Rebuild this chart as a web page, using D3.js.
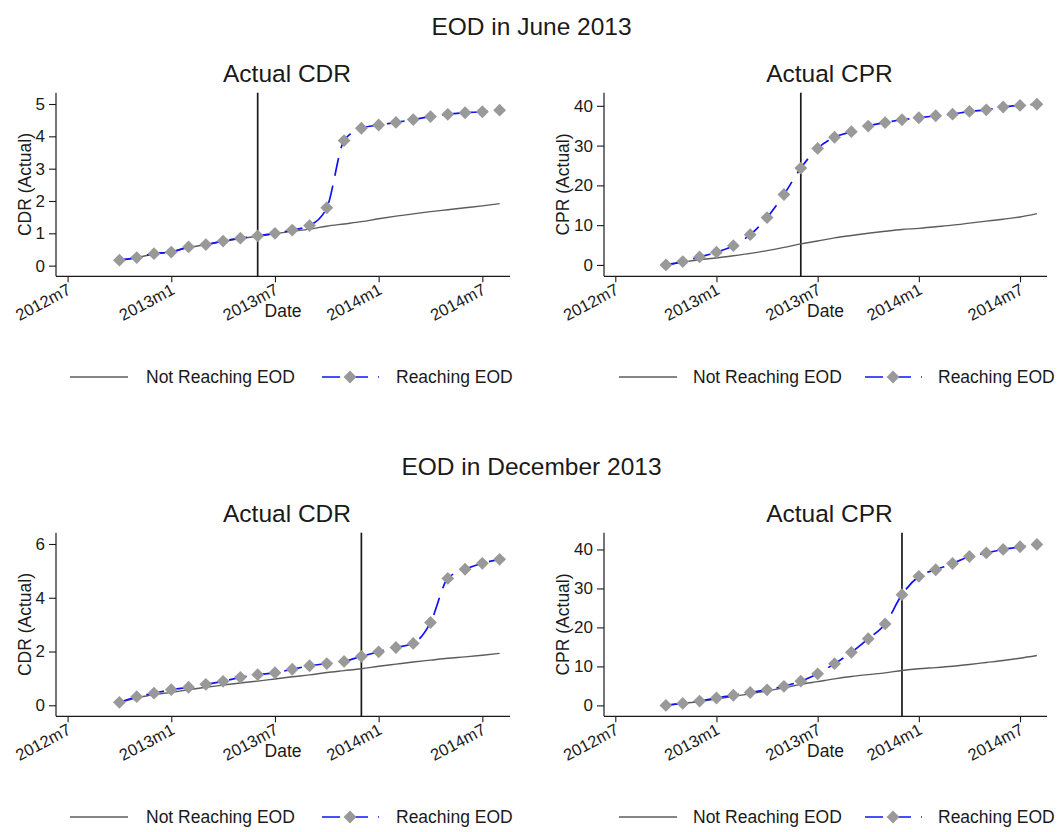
<!DOCTYPE html>
<html>
<head>
<meta charset="utf-8">
<script src="https://cdn.jsdelivr.net/npm/d3@7"></script>
<style>
  html, body { margin: 0; padding: 0; background: #fff; }
  svg { display: block; font-family: "Liberation Sans", Arial, Helvetica, sans-serif; }
</style>
</head>
<body>
<svg id="chart" width="1063" height="832"></svg>
<script>
// Monthly observation dates (Stata %tm style labels)
const months = ["2012m10","2012m11","2012m12","2013m1","2013m2","2013m3","2013m4","2013m5",
  "2013m6","2013m7","2013m8","2013m9","2013m10","2013m11","2013m12","2014m1","2014m2",
  "2014m3","2014m4","2014m5","2014m6","2014m7","2014m8"];
const monthTicks = ["2012m7","2013m1","2013m7","2014m1","2014m7"];

// EOD in June 2013
const cdrJuneNot   = [0.16,0.25,0.36,0.43,0.56,0.65,0.75,0.84,0.91,0.99,1.06,1.13,1.22,1.29,1.36,1.45,1.53,1.60,1.67,1.73,1.79,1.85,1.92];
const cdrJuneReach = [0.17,0.25,0.37,0.42,0.58,0.65,0.76,0.85,0.92,1.00,1.10,1.24,1.79,3.87,4.25,4.35,4.43,4.52,4.61,4.68,4.73,4.76,4.81];
const cprJuneNot   = [0.0,0.7,1.3,1.75,2.3,2.9,3.6,4.4,5.3,6.0,6.8,7.4,7.95,8.45,8.9,9.2,9.6,10.0,10.5,11.0,11.5,12.05,12.9];
const cprJuneReach = [0.0,0.84,2.0,3.2,4.85,7.6,11.9,17.7,24.35,29.3,32.1,33.5,34.9,35.8,36.5,37.0,37.5,37.9,38.6,39.0,39.7,40.1,40.4];

// EOD in December 2013
const cdrDecNot    = [0.11,0.27,0.40,0.48,0.58,0.67,0.75,0.83,0.90,0.98,1.06,1.13,1.22,1.29,1.36,1.45,1.53,1.61,1.68,1.75,1.80,1.86,1.93];
const cdrDecReach  = [0.11,0.32,0.45,0.58,0.67,0.78,0.89,1.04,1.14,1.21,1.34,1.47,1.55,1.63,1.82,1.99,2.15,2.30,3.08,4.72,5.06,5.28,5.43];
const cprDecNot    = [0.0,0.5,1.0,1.6,2.3,3.0,3.7,4.5,5.4,6.1,6.8,7.4,7.9,8.35,8.95,9.4,9.7,10.05,10.5,11.0,11.5,12.1,12.8];
const cprDecReach  = [0.0,0.5,1.1,1.9,2.6,3.3,4.0,4.9,6.2,8.1,10.7,13.6,17.1,20.9,28.4,33.1,34.8,36.4,38.2,39.1,40.0,40.7,41.3];

const cdrTicks = [0, 1, 2, 3, 4, 5];
const cdrDecTicks = [0, 2, 4, 6];
const cprTicks = [0, 10, 20, 30, 40];

const cdrJuneRange = [-0.33, 5.35];
const cprJuneRange = [-2.86, 43.3];
const cdrDecRange  = [-0.41, 6.42];
const cprDecRange  = [-2.8, 44.3];

const rowTitles = ["EOD in June 2013", "EOD in December 2013"];
const eodMonths = ["2013m6", "2013m12"];
const legendLabels = ["Not Reaching EOD", "Reaching EOD"];

// "2013m7" -> months since 2012m7
const monthIndex = s => { const [y, m] = s.split("m").map(Number); return (y - 2012) * 12 + (m - 7); };

const panels = [
  { row: 0, col: 0, title: "Actual CDR", ytitle: "CDR (Actual)", not: cdrJuneNot, reach: cdrJuneReach, ticks: cdrTicks,    range: cdrJuneRange },
  { row: 0, col: 1, title: "Actual CPR", ytitle: "CPR (Actual)", not: cprJuneNot, reach: cprJuneReach, ticks: cprTicks,    range: cprJuneRange },
  { row: 1, col: 0, title: "Actual CDR", ytitle: "CDR (Actual)", not: cdrDecNot,  reach: cdrDecReach,  ticks: cdrDecTicks, range: cdrDecRange },
  { row: 1, col: 1, title: "Actual CPR", ytitle: "CPR (Actual)", not: cprDecNot,  reach: cprDecReach,  ticks: cprTicks,    range: cprDecRange }
];

// layout
const colX = [{ left: 56, right: 510, legend: [70, 146, 322, 396] },
              { left: 604, right: 1047, legend: [619, 693, 865, 938] }];
const rowOffset = [0, 440];
const plotTop = 92.7, plotBottom = 276.3;

const INK = "#1a1a1a";
const GRAY_LINE = "#5c5c5c";
const BLUE = "#1010ff";
const MARKER = "#999999";
const DASH = "18,10";

const svg = d3.select("#chart");
const diamond = d3.symbol(d3.symbolSquare, 82);

// row titles
rowTitles.forEach((t, r) => {
  svg.append("text").attr("x", 531.5).attr("y", 35 + rowOffset[r])
    .attr("text-anchor", "middle").attr("font-size", 24.5).attr("fill", INK).text(t);
});

const xDomain = [monthIndex(monthTicks[0]) - 0.67, monthIndex(months[months.length - 1]) + 0.6];

panels.forEach(p => {
  const c = colX[p.col];
  const off = rowOffset[p.row];
  const top = plotTop + off, bottom = plotBottom + off;
  const x = d3.scaleLinear().domain(xDomain).range([c.left, c.right]);
  const y = d3.scaleLinear().domain(p.range).range([bottom, top]);
  const g = svg.append("g");

  // subplot title
  g.append("text").attr("x", (c.left + c.right) / 2 + 4).attr("y", 82 + off)
    .attr("text-anchor", "middle").attr("font-size", 24.5).attr("fill", INK).text(p.title);

  // y axis
  const ya = g.append("g").attr("transform", `translate(${c.left},0)`)
    .call(d3.axisLeft(y).tickValues(p.ticks).tickSize(7).tickSizeOuter(0).tickPadding(4).tickFormat(d3.format("d")));
  ya.select(".domain").attr("stroke", INK).attr("stroke-width", 1.2)
    .attr("d", `M0,${top}V${bottom}`);
  ya.selectAll(".tick line").attr("stroke", INK).attr("stroke-width", 1.1);
  ya.selectAll(".tick text").attr("font-size", 17).attr("fill", INK).attr("font-family", null);

  // x axis
  const xa = g.append("g").attr("transform", `translate(0,${bottom})`)
    .call(d3.axisBottom(x).tickValues(monthTicks.map(monthIndex)).tickSize(6).tickSizeOuter(0)
      .tickFormat((d, i) => monthTicks[i]));
  xa.select(".domain").attr("stroke", INK).attr("stroke-width", 1.2).attr("d", `M${c.left},0H${c.right}`);
  xa.selectAll(".tick line").attr("stroke", INK).attr("stroke-width", 1.1);
  xa.selectAll(".tick text").attr("font-size", 16.5).attr("fill", INK).attr("font-family", null)
    .attr("text-anchor", "end").attr("dy", null).attr("y", null)
    .attr("transform", "translate(4,17) rotate(-28)");

  // axis titles
  let minX = Infinity;
  ya.selectAll(".tick text").each(function () { const b = this.getBBox(); minX = Math.min(minX, b.x); });
  const yt = c.left + minX - 11;
  g.append("text").attr("transform", `translate(${yt},${(top + bottom) / 2}) rotate(-90)`)
    .attr("text-anchor", "middle").attr("dy", "0.35em").attr("font-size", 17.5).attr("fill", INK).text(p.ytitle);
  g.append("text").attr("x", (c.left + c.right) / 2).attr("y", 317 + off)
    .attr("text-anchor", "middle").attr("font-size", 17.5).attr("fill", INK).text("Date");

  const xs = months.map(monthIndex);

  // EOD month marker
  const ex = x(monthIndex(eodMonths[p.row]));
  g.append("line").attr("x1", ex).attr("x2", ex).attr("y1", top).attr("y2", bottom)
    .attr("stroke", INK).attr("stroke-width", 1.7);

  const line = d3.line().x((d, i) => x(xs[i])).y(d => y(d)).curve(d3.curveMonotoneX);

  g.append("path").datum(p.not).attr("d", line).attr("fill", "none")
    .attr("stroke", GRAY_LINE).attr("stroke-width", 1.4);
  g.append("path").datum(p.reach).attr("d", line).attr("fill", "none")
    .attr("stroke", BLUE).attr("stroke-width", 1.7).attr("stroke-dasharray", DASH);
  g.selectAll("path.mk").data(p.reach).join("path").attr("class", "mk")
    .attr("d", diamond)
    .attr("transform", (d, i) => `translate(${x(xs[i])},${y(d)}) rotate(45)`)
    .attr("fill", MARKER);

  // legend
  const ly = 377 + off;
  const L = c.legend;
  g.append("line").attr("x1", L[0]).attr("x2", L[0] + 58).attr("y1", ly).attr("y2", ly)
    .attr("stroke", GRAY_LINE).attr("stroke-width", 1.4);
  g.append("text").attr("x", L[1]).attr("y", ly).attr("dy", "0.35em")
    .attr("font-size", 17.5).attr("fill", INK).text(legendLabels[0]);
  g.append("line").attr("x1", L[2]).attr("x2", L[2] + 57).attr("y1", ly).attr("y2", ly)
    .attr("stroke", BLUE).attr("stroke-width", 1.7).attr("stroke-dasharray", DASH);
  g.append("path").attr("d", diamond).attr("transform", `translate(${L[2] + 28},${ly}) rotate(45)`)
    .attr("fill", MARKER);
  g.append("text").attr("x", L[3]).attr("y", ly).attr("dy", "0.35em")
    .attr("font-size", 17.5).attr("fill", INK).text(legendLabels[1]);
});
</script>
</body>
</html>
